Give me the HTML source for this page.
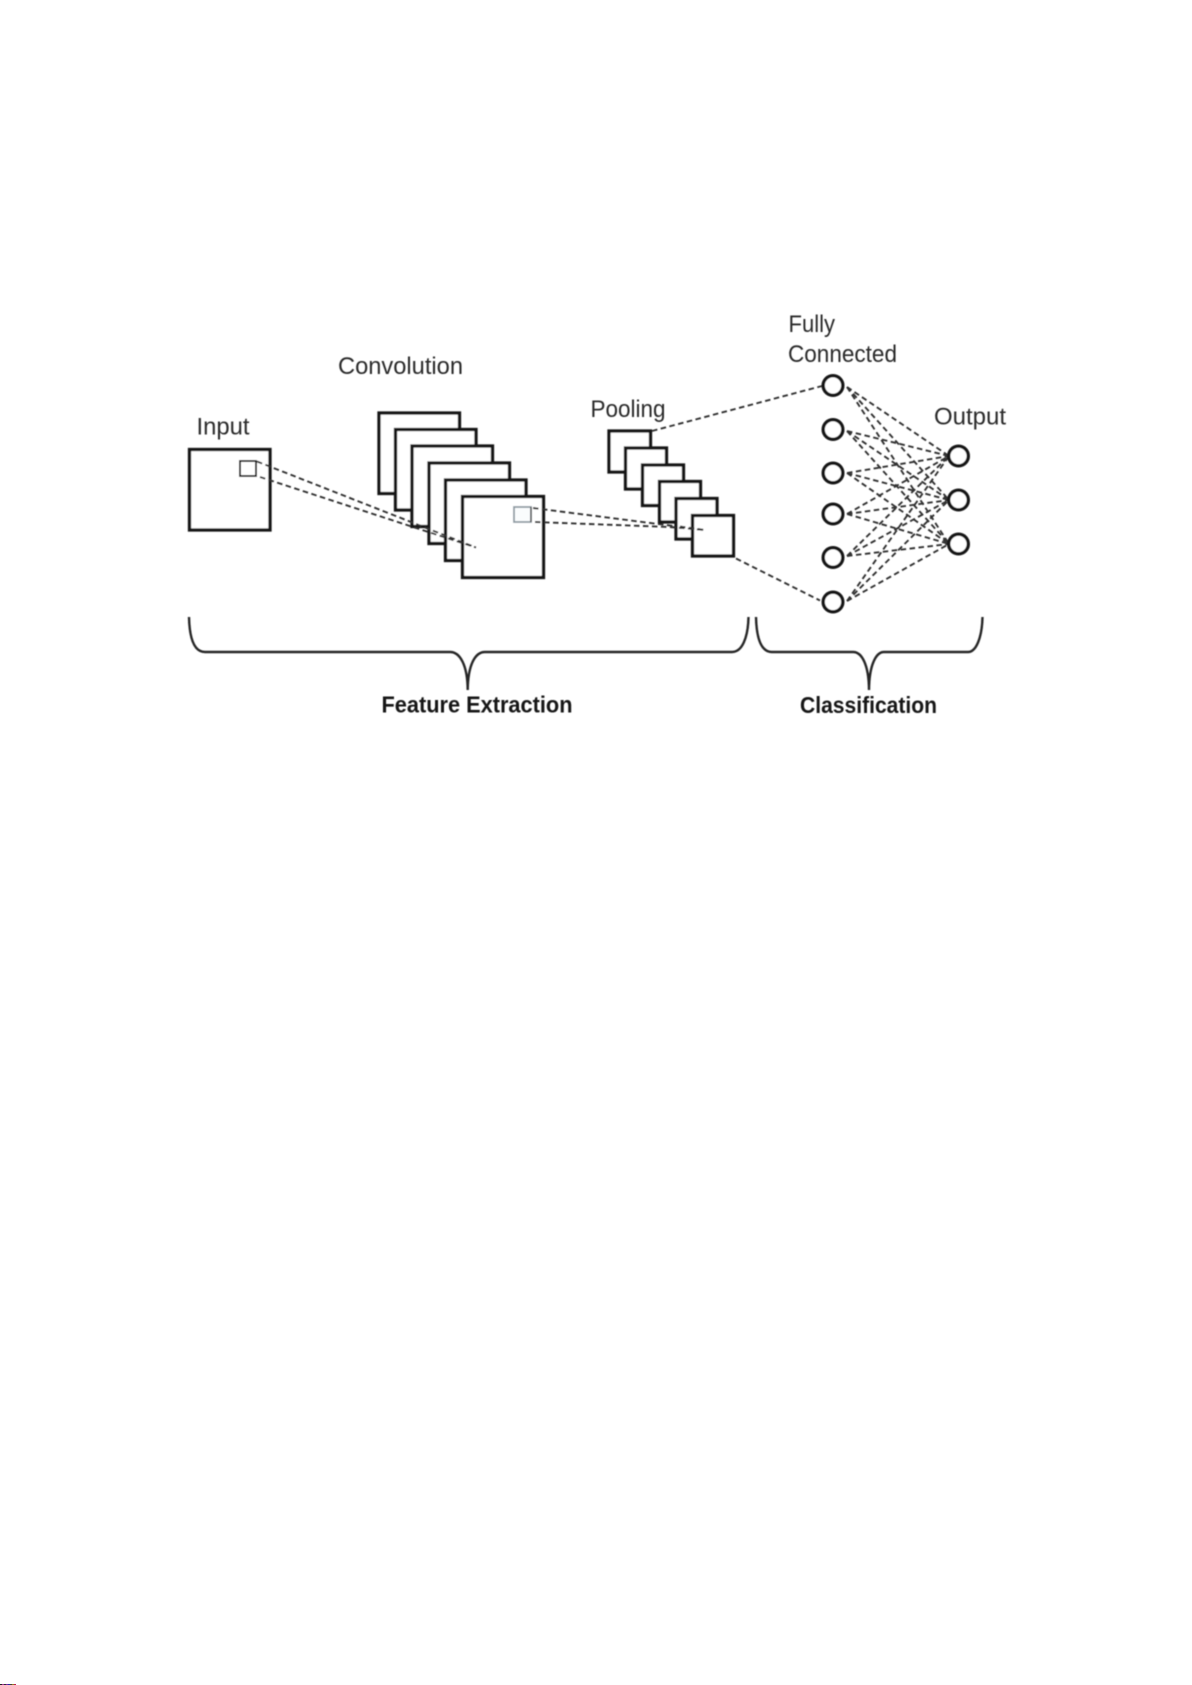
<!DOCTYPE html>
<html>
<head>
<meta charset="utf-8">
<style>
html,body{margin:0;padding:0;background:#fff;width:1192px;height:1685px;overflow:hidden}
svg{display:block}
text{font-family:"Liberation Sans",sans-serif;fill:#2c2c2c;font-size:24px}
.b{font-weight:bold;fill:#141414;font-size:23.5px}
.s{fill:#fff;stroke:#161616;stroke-width:3.3}
.d{fill:none;stroke:#333;stroke-width:1.9;stroke-dasharray:5.5 3.5}
.c{fill:#fff;stroke:#161616;stroke-width:3.4}
.br{fill:none;stroke:#262626;stroke-width:2.4}
</style>
</head>
<body>
<svg width="1192" height="1685" viewBox="0 0 1192 1685" xmlns="http://www.w3.org/2000/svg">
<defs><filter id="f" x="-2%" y="-2%" width="104%" height="104%"><feGaussianBlur stdDeviation="0.45"/></filter></defs>
<rect width="1192" height="1685" fill="#fff"/>
<g filter="url(#f)">
<text x="196.5" y="434.5" textLength="53" lengthAdjust="spacingAndGlyphs">Input</text>
<text x="338" y="374" textLength="125" lengthAdjust="spacingAndGlyphs">Convolution</text>
<text x="590.5" y="417" textLength="75" lengthAdjust="spacingAndGlyphs">Pooling</text>
<text x="788.5" y="332" textLength="46.5" lengthAdjust="spacingAndGlyphs">Fully</text>
<text x="788" y="362" textLength="109" lengthAdjust="spacingAndGlyphs">Connected</text>
<text x="934" y="424.5" textLength="72" lengthAdjust="spacingAndGlyphs">Output</text>
<text class="b" x="381.5" y="712.5" textLength="191" lengthAdjust="spacingAndGlyphs">Feature Extraction</text>
<text class="b" x="800" y="713" textLength="137" lengthAdjust="spacingAndGlyphs">Classification</text>

<rect class="s" x="189.5" y="449.5" width="80.5" height="80.5"/>
<rect x="240" y="461" width="16" height="15" fill="#fff" stroke="#1c1c1c" stroke-width="1.9"/>

<rect class="s" x="379" y="413" width="80.5" height="80.5"/>
<rect class="s" x="395.5" y="429.5" width="80.5" height="80.5"/>
<rect class="s" x="412" y="446" width="80.5" height="80.5"/>
<rect class="s" x="429" y="463" width="80.5" height="80.5"/>
<rect class="s" x="445.5" y="480" width="80.5" height="80.5"/>
<rect class="s" x="462.5" y="496.5" width="81" height="81"/>
<rect x="514" y="507" width="17" height="15" fill="#fafcfd" stroke="#8f9ba3" stroke-width="1.8"/>
<path d="M531 507V522" stroke="#555" stroke-width="1.5"/>

<path class="d" d="M257 461.5L476 547.5"/>
<path class="d" d="M260 477L413 527L476 547.5"/>
<path class="d" d="M533 508L705 530"/>
<path class="d" d="M535 522L670 527L705 530"/>

<rect class="s" x="609" y="431" width="41.5" height="41"/>
<rect class="s" x="625.5" y="448" width="41" height="41"/>
<rect class="s" x="642.5" y="465" width="41" height="40.5"/>
<rect class="s" x="659.5" y="481.5" width="41" height="40.5"/>
<rect class="s" x="676" y="498.5" width="41" height="40.5"/>
<rect class="s" x="692.5" y="515.5" width="41" height="40.5"/>
<path class="d" d="M670 527L705 530"/>
<path class="d" d="M680 526.5L705 530"/>

<path class="d" d="M652 431L822 386"/>
<path class="d" d="M736 558.5L820 600.5"/>

<g class="d">
<path d="M847 387L949 456"/><path d="M847 387L949 500"/><path d="M847 387L949 544"/>
<path d="M847 431L949 456"/><path d="M847 431L949 500"/><path d="M847 431L949 544"/>
<path d="M847 473L949 456"/><path d="M847 473L949 500"/><path d="M847 473L949 544"/>
<path d="M847 514L949 456"/><path d="M847 514L949 500"/><path d="M847 514L949 544"/>
<path d="M847 556L949 456"/><path d="M847 556L949 500"/><path d="M847 556L949 544"/>
<path d="M847 601L949 456"/><path d="M847 601L949 500"/><path d="M847 601L949 544"/>
</g>

<g>
<circle class="c" cx="833" cy="385.5" r="9.8"/>
<circle class="c" cx="833" cy="429.5" r="9.8"/>
<circle class="c" cx="833" cy="473" r="9.8"/>
<circle class="c" cx="833" cy="514" r="9.8"/>
<circle class="c" cx="833" cy="557.5" r="9.8"/>
<circle class="c" cx="833" cy="602" r="9.8"/>
<circle class="c" cx="958.5" cy="456" r="9.8"/>
<circle class="c" cx="958.5" cy="500" r="9.8"/>
<circle class="c" cx="958.5" cy="544" r="9.8"/>
</g>

<path class="br" d="M189 617C189.500 638 194 652 205 652H450C460 652 467.500 665 467.700 690C468 665 475 652 485 652H732C742 652 748 638 748.500 617"/>
<path class="br" d="M756 617C756.500 638 761 652 772 652H853C862 652 868.800 665 869 690C869.200 665 876 652 884 652H968C976 652 982 638 982.500 617"/>
</g>

<g shape-rendering="crispEdges">
<rect x="0" y="1684" width="2" height="1" fill="#222"/>
<rect x="2" y="1684" width="2" height="1" fill="#a03090"/>
<rect x="4" y="1684" width="2" height="1" fill="#303030"/>
<rect x="6" y="1684" width="2" height="1" fill="#8020a0"/>
<rect x="8" y="1684" width="2" height="1" fill="#2030a0"/>
<rect x="10" y="1684" width="2" height="1" fill="#404040"/>
<rect x="12" y="1684" width="2" height="1" fill="#908020"/>
<rect x="14" y="1684" width="2" height="1" fill="#c02050"/>
</g>
</svg>
</body>
</html>
